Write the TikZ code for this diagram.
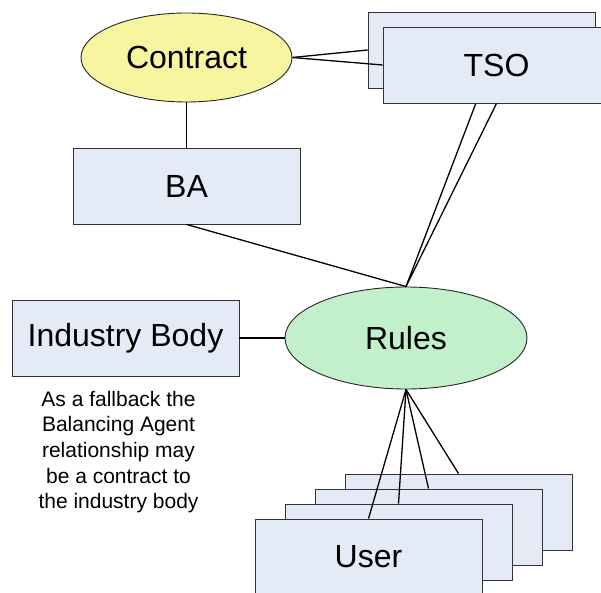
\documentclass[tikz,border=0pt]{standalone}
\usepackage{fontspec}
\setmainfont{Liberation Sans}
\usetikzlibrary{shapes.geometric}

\definecolor{boxfill}{RGB}{228,234,246}
\definecolor{contractfill}{RGB}{248,245,160}
\definecolor{rulesfill}{RGB}{194,240,203}

\tikzset{
  entity/.style={draw=black!80, line width=0.9pt, fill=boxfill,
    minimum width=227pt, minimum height=76pt, inner sep=0pt,
    font=\fontsize{32}{38}\selectfont},
  relation/.style={ellipse, draw=black!85, line width=0.9pt, inner sep=0pt,
    font=\fontsize{32}{38}\selectfont},
  link/.style={draw=black, line width=1.3pt}
}

\begin{document}
\begin{tikzpicture}[x=1pt,y=1pt]
  \clip (0,0) rectangle (601,592);
  \fill[white] (0,0) rectangle (601,592);

  \node[relation, fill=contractfill, minimum width=211pt, minimum height=89pt]
    (contract) at (186.5,534.5) {Contract};
  \node[entity] (ba) at (186.5,406) {BA};
  \node[entity] (industry) at (125.5,254) {Industry Body};
  \node[relation, fill=rulesfill, minimum width=242pt, minimum height=102pt]
    (rules) at (406,254) {Rules};

  % TSO stack, the back card is partly hidden
  \node[entity] (tsoback) at (481.5,542) {};
  \draw[link] (rules.north) -- (tsoback.south);
  \draw[link] (contract.east) -- (tsoback.west);
  \node[entity] (tsofront) at (496.5,527) {TSO};

  % User stack, back to front
  \foreach \i/\txt in {3/,2/,1/,0/User}
    \node[entity] (user\i) at ({368.5+30*\i},{35+15*\i}) {\txt};

  \begin{scope}[link]
    \draw (contract.east) to (tsofront.west);
    \draw (contract.south) to (ba.north);
    \draw (ba.south) to (rules.north);
    \draw (tsofront.south) to (rules.north);
    \draw (industry.east) to (rules.west);
    \foreach \i in {0,...,3}
      \draw (rules.south) to (user\i.north);
  \end{scope}

  \node[align=center, inner sep=0pt, anchor=north,
    font=\fontsize{21}{25.7}\selectfont] (note) at (118.5,201.3)
    {As a fallback the\\Balancing Agent\\relationship may\\be a contract to\\the industry body};
\end{tikzpicture}
\end{document}
